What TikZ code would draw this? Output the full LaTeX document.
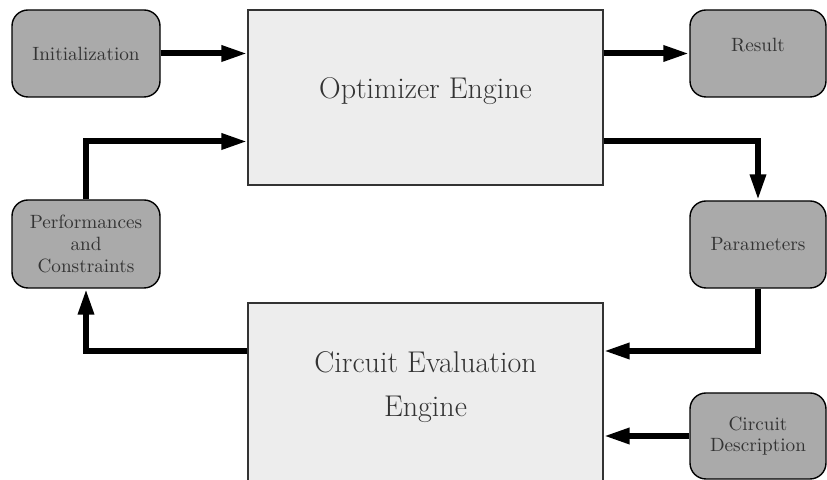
\documentclass[tikz,border=0pt]{standalone}
\usetikzlibrary{arrows.meta}
\definecolor{blockgray}{HTML}{AAAAAA}
\definecolor{enginegray}{HTML}{EDEDED}
\definecolor{inktext}{HTML}{333333}

\begin{document}
\begin{tikzpicture}[x=0.5pt, y=0.5pt,
  >={Triangle[length=13pt, width=7.5pt]},
  ioblock/.style={draw=black, line width=0.7pt, fill=blockgray,
    rounded corners=8pt, minimum height=43.5pt, text=inktext,
    align=center, font=\fontsize{9.6}{10.8}\selectfont},
  engine/.style={draw=black!80, line width=0.6pt, fill=enginegray,
    minimum width=177.5pt, text=inktext, align=center, text depth=9pt,
    font=\fontsize{15}{22}\selectfont},
  flow/.style={->, line width=3pt}]

% Frame (bottom engine runs off the page)
\useasboundingbox (0,0) rectangle (827,480);
\clip (0,0) rectangle (827,480);

% ================================================================
% Engines
% ================================================================
\node[engine, minimum height=87.5pt] (optimizer) at (425.5,382.5)
  {Optimizer Engine};
\node[engine, minimum height=90pt] (evaluator) at (425.5,87)
  {Circuit Evaluation\\Engine};

% ================================================================
% Inputs and outputs
% ================================================================
\node[ioblock, minimum width=74pt] (init) at (86,426.5) {Initialization};
\node[ioblock, minimum width=74pt, minimum height=44pt] (perf) at (86,236)
  {Performances\\and\\Constraints};
\node[ioblock, minimum width=68pt, text depth=9pt] (result) at (758,426.5)
  {Result};
\node[ioblock, minimum width=68pt] (params) at (758,235.5) {Parameters};
\node[ioblock, minimum width=68pt, minimum height=43pt] (desc) at (758,44)
  {Circuit\\Description};

% ================================================================
% Loop
% ================================================================
\draw[flow] (init.east) -- (init.east -| optimizer.west);
\draw[flow] (result.west -| optimizer.east) -- (result.west);
\draw[flow] ([yshift=-22pt]optimizer.east) -| (params.north);
\draw[flow] (params.south) |- ([yshift=21pt]evaluator.east);
\draw[flow] (desc.west) -- (desc.west -| evaluator.east);
\draw[flow] ([yshift=21pt]evaluator.west) -| (perf.south);
\draw[flow] (perf.north) |- ([yshift=-22pt]optimizer.west);

\end{tikzpicture}
\end{document}
